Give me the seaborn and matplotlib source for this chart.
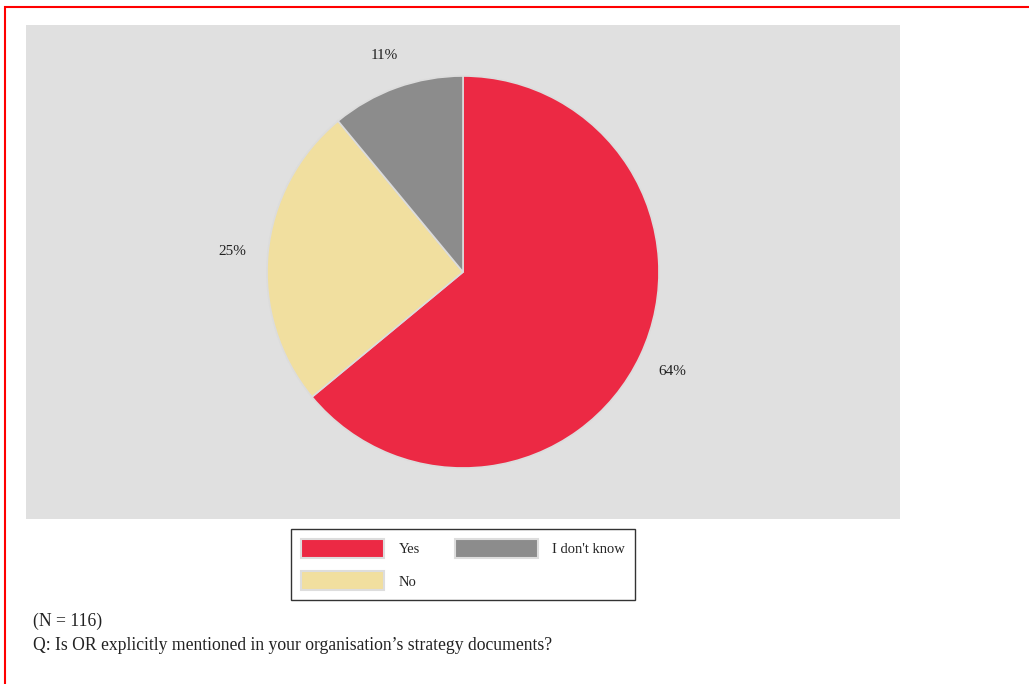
import matplotlib
matplotlib.use('Agg')
import matplotlib.pyplot as plt
import seaborn as sns
from matplotlib.patches import Patch, Rectangle

# answers to the survey question, clockwise from 12 o'clock
labels = ['Yes', 'No', "I don't know"]
shares = [64, 25, 11]
pctLabels = ['64%', '25%', '11%']
colors = ['#EC2944', '#F1DF9F', '#8C8C8C']
nRespondents = 116
question = 'Q: Is OR explicitly mentioned in your organisation\u2019s strategy documents?'

sns.set_theme(style='white')
plt.rcParams['font.family'] = ['Liberation Serif', 'DejaVu Serif']

W, H = 1029, 684
fig = plt.figure(figsize=(W / 100, H / 100), dpi=100)
fig.patch.set_facecolor('white')

def figRect(x0, y0, x1, y1):
    return [x0 / W, 1 - y1 / H, (x1 - x0) / W, (y1 - y0) / H]

ax = fig.add_axes(figRect(26, 25, 900, 519))
wedges, texts = ax.pie(shares, labels=pctLabels, colors=colors, startangle=90,
                       counterclock=False, labeldistance=1.18, frame=True,
                       wedgeprops=dict(edgecolor='#DCDCDC', linewidth=1.2),
                       textprops=dict(fontsize=11, color='#222222'))
for t in texts:
    t.set_horizontalalignment('center')
    t.set_verticalalignment('center_baseline')
ax.set_facecolor('#E0E0E0')
ax.set_aspect('equal', adjustable='datalim')
ax.set_ylim(-247 / 196, 247 / 196)
ax.set_xlim(-437 / 196, 437 / 196)
for s in ax.spines.values():
    s.set_visible(False)
ax.set_xticks([])
ax.set_yticks([])

handles = [Patch(facecolor=c, edgecolor='#DDDDDD', linewidth=1.5) for c in colors]
leg = fig.legend(handles, labels, ncol=2, loc='center',
                 bbox_to_anchor=(463 / W, 1 - 564.5 / H),
                 fontsize=10.5, handlelength=5.7, handleheight=1.6,
                 handletextpad=1.0, columnspacing=2.4, labelspacing=0.95,
                 borderpad=0.7, fancybox=False, frameon=True)
leg.get_frame().set_edgecolor('black')
leg.get_frame().set_linewidth(1.0)

fig.text(33 / W, 1 - 621 / H, '(N = %d)' % nRespondents, fontsize=12.7,
         va='center', ha='left', color='#222222')
fig.text(33 / W, 1 - 645 / H, question, fontsize=12.7,
         va='center', ha='left', color='#222222')

# red frame (only top and left edges fall inside the picture)
fig.add_artist(Rectangle((5 / W, -0.1), 1.1, (H - 7) / H + 0.1,
                         transform=fig.transFigure, fill=False,
                         edgecolor='red', linewidth=1.5, clip_on=False))

fig.savefig('out.png', dpi=100)
